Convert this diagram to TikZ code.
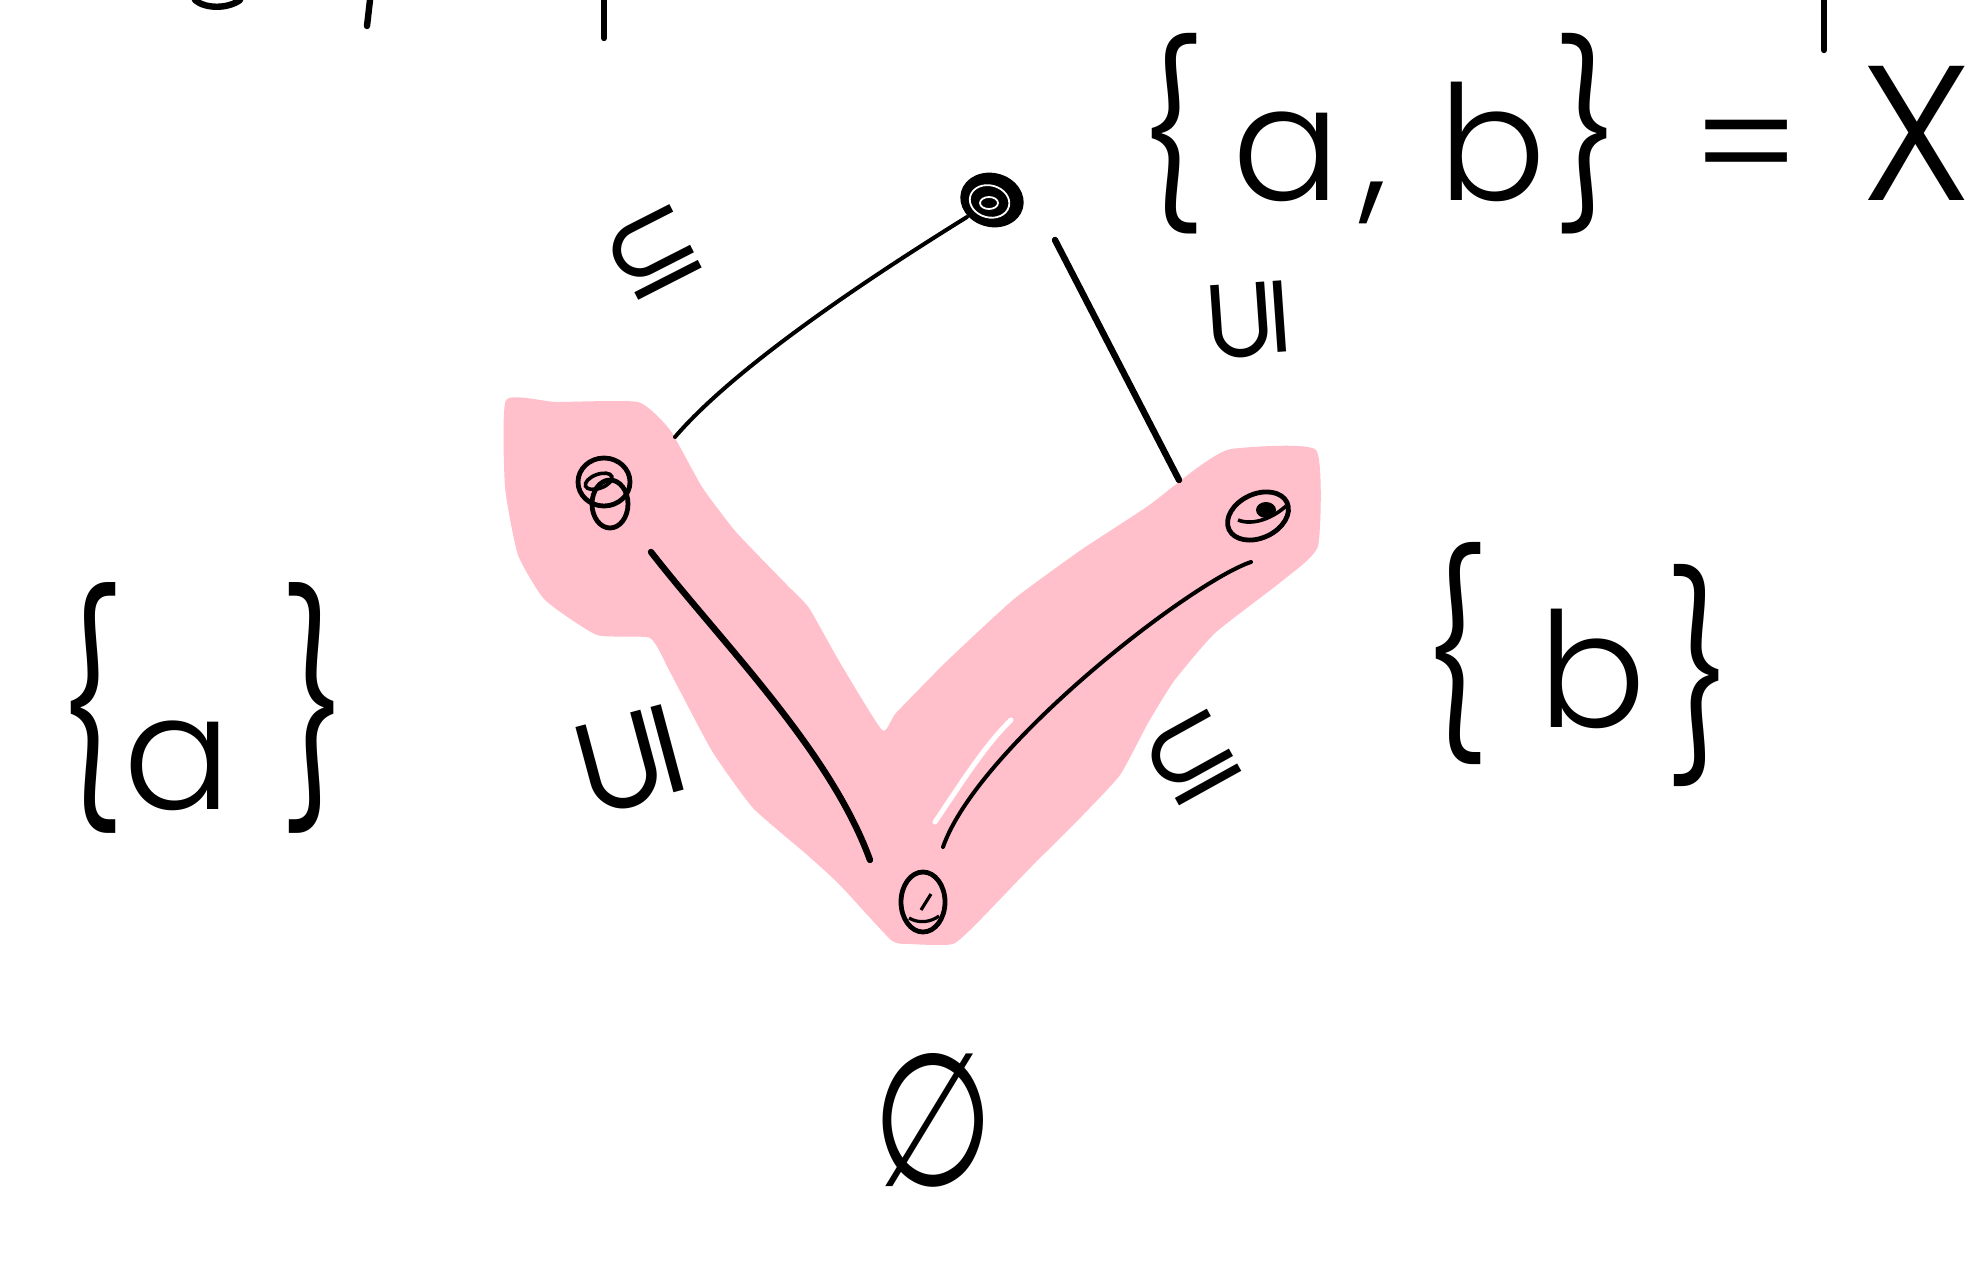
\documentclass[tikz,border=0pt]{standalone}
\usepackage{fontspec}
\usepackage{graphicx}
\IfFontExistsTF{Poppins Light}{\setmainfont{Poppins Light}}{\setmainfont{Poppins}}
\newfontfamily\symfnt{DejaVu Sans}
\usetikzlibrary{calc}
\definecolor{hl}{RGB}{255,192,203}
\tikzset{
  pen/.style={line width=3.2pt, line cap=round, line join=round},
  thinpen/.style={line width=2pt, line cap=round, line join=round},
  dotpen/.style={line width=2.4pt},
  vert/.style={inner sep=0pt, minimum size=0pt},
  settxt/.style={inner sep=0pt, anchor=base west, font=\fontsize{80}{80}\selectfont},
  rel/.style={inner sep=0pt, font=\symfnt\fontsize{58}{58}\selectfont},
}
\begin{document}
\begin{tikzpicture}[x=0.5pt,y=-0.5pt]
\useasboundingbox (0,0) rectangle (1982,1274);
\fill[white] (0,0) rectangle (1982,1274);

% pink highlight
\fill[hl] plot[smooth cycle, tension=0.3] coordinates {
 (506,400) (556,402) (638,402) (670,430) (702,487) (736,532) (787,585)
 (809,608) (839,661) (882,730) (896,713) (947,661) (1014,599) (1081,550)
 (1148,506) (1197,468) (1231,449) (1316,450) (1318,546) (1282,581)
 (1215,633) (1174,681) (1148,723) (1120,775) (1081,817) (1030,868)
 (980,920) (953,944) (910,944) (891,940) (839,884) (805,853) (753,808)
 (712,751) (670,672) (650,638) (597,635) (545,600) (518,555) (505,487)};
\draw[white, line width=2.5pt, line cap=round] (935,822) .. controls (960,785) and (985,745) .. (1011,720);

% remnants of the line above
\draw[pen] (195,0) .. controls (205,9) and (228,9) .. (240,0);
\draw[pen] (370,0) -- (367,26);
\draw[pen] (604,0) -- (604,38);
\draw[pen] (1824,0) -- (1824,50);

% vertices
\node[vert] (top) at (992,200) {};
\node[vert] (left) at (604,490) {};
\node[vert] (right) at (1258,516) {};
\node[vert] (bot) at (923,902) {};

% vertex scribbles
\fill[rotate around={-15:(top)}] (top) ellipse [x radius=16pt, y radius=13.5pt];
\draw[white, line width=0.9pt, rotate around={-15:(top)}] ($(top)+(-2,2)$) ellipse [x radius=10pt, y radius=8pt];
\draw[white, line width=0.9pt] ($(top)+(-3,3)$) ellipse [x radius=4.5pt, y radius=3pt];

\draw[dotpen] ($(left)+(0,-8)$) ellipse [x radius=13pt, y radius=12pt];
\draw[dotpen] ($(left)+(6,14)$) ellipse [x radius=9pt, y radius=12pt];
\draw[line width=1.8pt, rotate around={20:($(left)+(-2,-10)$)}] ($(left)+(-2,-10)$) ellipse [x radius=7pt, y radius=3.5pt];

\draw[dotpen, rotate around={25:(right)}] (right) ellipse [x radius=16pt, y radius=11pt];
\fill ($(right)+(8,-6)$) ellipse [x radius=5pt, y radius=4pt];
\draw[line width=1.8pt] ($(right)+(-20,4)$) .. controls ($(right)+(-5,10)$) and ($(right)+(15,2)$) .. ($(right)+(28,-10)$);

\draw[dotpen] (bot) ellipse [x radius=11pt, y radius=15pt];
\draw[line width=1.6pt] ($(bot)+(-2,8)$) -- ($(bot)+(8,-8)$);
\draw[line width=1.6pt] ($(bot)+(-14,16)$) .. controls ($(bot)+(-4,22)$) and ($(bot)+(8,20)$) .. ($(bot)+(16,14)$);

% edges
\draw[thinpen] ($(left)+(71,-53)$) .. controls ($(left)+(131,-123)$) and ($(top)+(-125,79)$) .. ($(top)+(-25,17)$);
\draw[pen] ($(right)+(-79,-36)$) -- ($(top)+(63,40)$);
\draw[pen] ($(left)+(47,62)$) .. controls ($(left)+(117,152)$) and ($(bot)+(-93,-152)$) .. ($(bot)+(-53,-42)$);
\draw[thinpen] ($(right)+(-7,46)$) .. controls ($(right)+(-67,66)$) and ($(bot)+(55,-155)$) .. ($(bot)+(20,-55)$);

% relation labels
\node[rel, rotate=27] (r1) at (654,253) {⊆};
\node[rel, rotate=94] (r2) at (1249,319) {⊆};
\node[rel, rotate=105, font=\symfnt\fontsize{72}{72}\selectfont] (r3) at (630,760) {⊆};
\node[rel, rotate=29] (r4) at (1193,758) {⊆};

% set labels
\node[settxt] (X) at (1138,200) {\scalebox{1}[1.12]{\{}\hspace{14pt}a\hspace{10pt},\hspace{25pt}b\hspace{4pt}\scalebox{1}[1.12]{\}}\hspace{36pt}=\hspace{30pt}\scalebox{1.2}{X}};
\node[settxt] (A) at (57,809) {\raisebox{9pt}{\scalebox{1}[1.4]{\{}}a\hspace{25pt}\raisebox{9pt}{\scalebox{1}[1.4]{\}}}};
\node[settxt] (B) at (1422,727) {\scalebox{1}[1.24]{\{}\hspace{25pt}b\hspace{10pt}\raisebox{-11pt}{\scalebox{1}[1.24]{\}}}};
\node[inner sep=0pt, font=\symfnt\fontsize{93}{93}\selectfont, xscale=0.75] (E) at (933,1120) {∅};
\end{tikzpicture}
\end{document}
